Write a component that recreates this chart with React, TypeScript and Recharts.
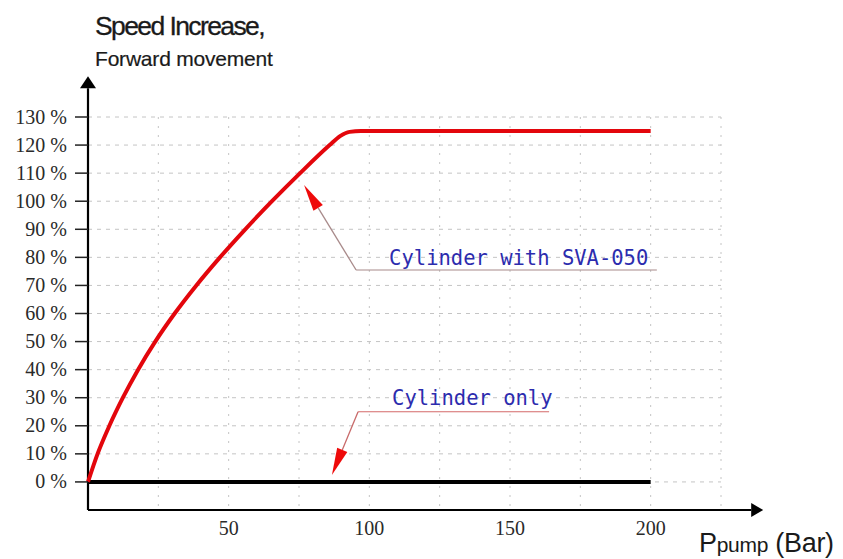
import React from "react";
import { LineChart, Line, XAxis, YAxis, CartesianGrid, ReferenceLine } from "recharts";

// ---- data ----
const pressureSva = [0, 3.4, 7.6, 12.4, 17.8, 23.9, 30.8, 38.5, 46.9, 55.9, 65.4, 75.4, 85.9, 89.6, 93, 97, 200];
const speedSva = [0, 10, 20, 30, 40, 50, 60, 70, 80, 90, 100, 110, 120, 123.2, 124.7, 125, 125];
const pressureCyl = [0, 200];
const speedCyl = [0, 0];

const xTicks = [0, 25, 50, 75, 100, 125, 150, 175, 200, 225];
const xLabelTicks = [50, 100, 150, 200];
const yTicks = [0, 10, 20, 30, 40, 50, 60, 70, 80, 90, 100, 110, 120, 130];

// annotation anchors in data units: underline start/end and arrow tip
const svaNote = { text: "Cylinder with SVA-050", start: [95.3, 75.5], end: [202.2, 75.5], tip: [76.8, 105.8] };
const cylNote = { text: "Cylinder only", start: [96, 25], end: [163.9, 25], tip: [86.7, 2.5] };

const svaData = pressureSva.map((x, i) => ({ x, y: speedSva[i] }));
const cylData = pressureCyl.map((x, i) => ({ x, y: speedCyl[i] }));

const arrowShape =
  (headColor: string, lineColor: string, len: number, half: number, lw: number) =>
  (props: any) => {
    const { x1, y1, x2, y2 } = props;
    const dx = x2 - x1;
    const dy = y2 - y1;
    const L = Math.hypot(dx, dy) || 1;
    const ux = dx / L;
    const uy = dy / L;
    const bx = x2 - ux * len;
    const by = y2 - uy * len;
    const px = -uy * half;
    const py = ux * half;
    return (
      <g>
        <line x1={x1} y1={y1} x2={bx} y2={by} stroke={lineColor} strokeWidth={lw} />
        <polygon points={`${x2},${y2} ${bx + px},${by + py} ${bx - px},${by - py}`} fill={headColor} />
      </g>
    );
  };

const noteShape = (text: string, lineColor: string, dx: number, dy: number) => (props: any) => {
  const { x1, y1, x2, y2 } = props;
  return (
    <g>
      <line x1={x1} y1={y1} x2={x2} y2={y2} stroke={lineColor} strokeWidth={1.2} />
      <text
        x={x1 + dx}
        y={y1 + dy}
        fill="#2c2cae"
        fontFamily="'DejaVu Sans Mono', monospace"
        fontSize={20.5}
      >
        {text}
      </text>
    </g>
  );
};

const XTick = (props: any) => {
  const { x, y, payload } = props;
  if (!xLabelTicks.includes(payload.value)) return <g />;
  return (
    <text x={x} y={y + 17} textAnchor="middle" fill="#2a2a2a" fontFamily="'Liberation Serif', serif" fontSize={20}>
      {payload.value}
    </text>
  );
};

const YTick = (props: any) => {
  const { x, y, payload } = props;
  return (
    <text x={x} y={y + 6.5} textAnchor="end" fill="#2a2a2a" fontFamily="'Liberation Serif', serif" fontSize={20}>
      {`${payload.value} %`}
    </text>
  );
};

export default function App() {
  return (
    <div style={{ position: "absolute", left: 0, top: 0, width: 843, height: 559, background: "#fff" }}>
      <LineChart
        width={843}
        height={559}
        margin={{ top: 117, right: 122, left: 8, bottom: 9 }}
      >
        <CartesianGrid horizontal={true} vertical={false} stroke="#c4c4c4" strokeDasharray="4 5" />
        <CartesianGrid horizontal={false} vertical={true} stroke="#c4c4c4" strokeDasharray="2 7" />
        <XAxis
          type="number"
          dataKey="x"
          domain={[0, 225]}
          ticks={xTicks}
          axisLine={false}
          tickLine={false}
          height={40}
          tick={<XTick />}
          interval={0}
        />
        <YAxis
          type="number"
          dataKey="y"
          domain={[-10, 130]}
          ticks={yTicks}
          axisLine={false}
          tickLine={{ stroke: "#222", strokeWidth: 1.5 }}
          tickSize={13}
          tickMargin={8}
          width={80}
          tick={<YTick />}
          interval={0}
        />
        <ReferenceLine
          segment={[{ x: 0, y: -10 }, { x: 240, y: -10 }]}
          ifOverflow="visible"
          shape={arrowShape("#000", "#000", 12, 7, 2)}
        />
        <ReferenceLine
          segment={[{ x: 0, y: -10 }, { x: 0, y: 144.5 }]}
          ifOverflow="visible"
          shape={arrowShape("#000", "#000", 12, 8, 2.2)}
        />
        <Line
          data={cylData}
          dataKey="y"
          type="linear"
          stroke="#000"
          strokeWidth={4}
          dot={false}
          isAnimationActive={false}
        />
        <Line
          data={svaData}
          dataKey="y"
          type="monotone"
          stroke="#e3060c"
          strokeWidth={4}
          dot={false}
          isAnimationActive={false}
        />
        <ReferenceLine
          segment={[{ x: svaNote.start[0], y: svaNote.start[1] }, { x: svaNote.tip[0], y: svaNote.tip[1] }]}
          ifOverflow="visible"
          shape={arrowShape("#ee0a0a", "#a88a8a", 27, 5.5, 1.3)}
        />
        <ReferenceLine
          segment={[{ x: svaNote.start[0], y: svaNote.start[1] }, { x: svaNote.end[0], y: svaNote.end[1] }]}
          ifOverflow="visible"
          shape={noteShape(svaNote.text, "#a88a8a", 33, -5)}
        />
        <ReferenceLine
          segment={[{ x: cylNote.start[0], y: cylNote.start[1] }, { x: cylNote.tip[0], y: cylNote.tip[1] }]}
          ifOverflow="visible"
          shape={arrowShape("#ee0a0a", "#c86a6a", 27, 5.5, 1.3)}
        />
        <ReferenceLine
          segment={[{ x: cylNote.start[0], y: cylNote.start[1] }, { x: cylNote.end[0], y: cylNote.end[1] }]}
          ifOverflow="visible"
          shape={noteShape(cylNote.text, "#d46a6a", 34, -7)}
        />
      </LineChart>
      <svg
        width={843}
        height={559}
        style={{ position: "absolute", left: 0, top: 0, pointerEvents: "none" }}
      >
        <text x={95} y={35} fontFamily="'Liberation Sans', Arial, sans-serif" fontSize={26.5} letterSpacing={-1.6} fill="#1a1a1a" stroke="#1a1a1a" strokeWidth={0.3}>
          Speed Increase,
        </text>
        <text x={95} y={66} fontFamily="'Liberation Sans', Arial, sans-serif" fontSize={21} letterSpacing={-0.2} fill="#1a1a1a" stroke="#1a1a1a" strokeWidth={0.2}>
          Forward movement
        </text>
        <text x={699} y={552} fontFamily="'Liberation Sans', Arial, sans-serif" fill="#1a1a1a" letterSpacing={-0.3}>
          <tspan fontSize={27}>P</tspan>
          <tspan fontSize={21}>pump</tspan>
          <tspan fontSize={27}> (Bar)</tspan>
        </text>
      </svg>
    </div>
  );
}
